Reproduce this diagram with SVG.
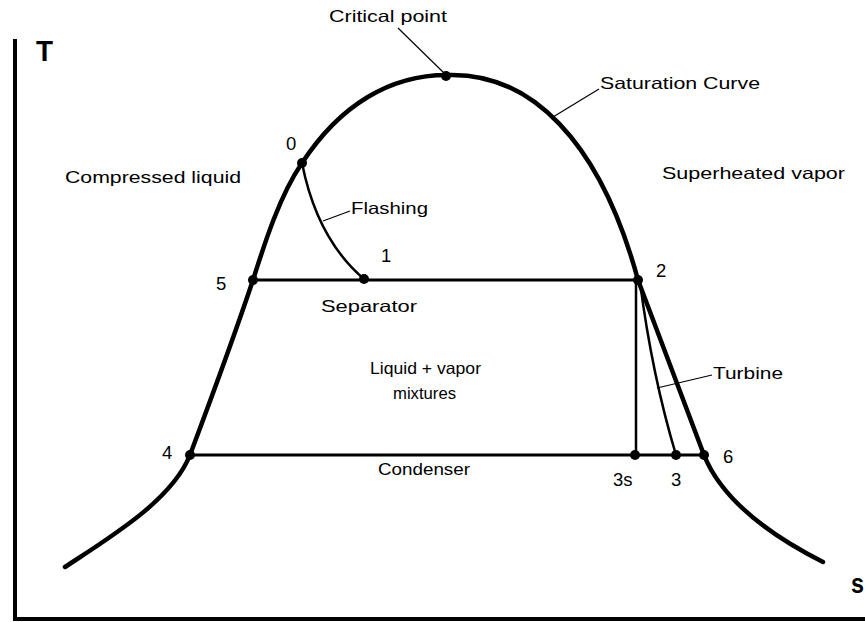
<svg xmlns="http://www.w3.org/2000/svg" width="865" height="622" viewBox="0 0 865 622">
<style>
text{font-family:"Liberation Sans","DejaVu Sans",sans-serif;fill:#000}
.lbl{font-size:16.5px}
.num{font-size:18.5px}
.ax{font-weight:bold}
.thick{fill:none;stroke:#000;stroke-width:4.5;stroke-linecap:round;stroke-linejoin:round}
.mid{fill:none;stroke:#000;stroke-width:3}
.thin{fill:none;stroke:#000;stroke-width:2.5}
.lead{fill:none;stroke:#000;stroke-width:1.2}
.dot{fill:#000}
</style>
<rect width="865" height="622" fill="#fff"/>
<g id="axes">
<path d="M15,39 V619 H865" fill="none" stroke="#000" stroke-width="4"/>
<text class="ax" x="36" y="61" font-size="30" textLength="17" lengthAdjust="spacingAndGlyphs">T</text>
<text class="ax" x="851" y="593" font-size="27" textLength="13" lengthAdjust="spacingAndGlyphs">s</text>
</g>
<g id="connectors">
<path id="saturation-curve" class="thick" d="M65,567 C112,536 172,500 190,455 C205,415 238,325 253,280 C265,242 280,195 302,163 C340,105 390,75 447,75 C530,72 600,140 638,280 L704,455 C720,495 760,530 823,562"/>
<path class="mid" d="M253,280 H638"/>
<path class="mid" d="M190,455 H704"/>
<path class="thin" d="M636,280 V455"/>
<path class="thin" d="M640,282 Q652,375 676,455"/>
<path class="thin" d="M302,163 Q317,239 364,279"/>
<path class="lead" d="M398,28 L444,73"/>
<path class="lead" d="M553,117 L599,89"/>
<path class="lead" d="M323,221 L350,211"/>
<path class="lead" d="M657,388 L712,375"/>
</g>
<g id="critical-point"><circle class="dot" cx="446" cy="76" r="5"/><text class="lbl" x="329" y="22" textLength="118" lengthAdjust="spacingAndGlyphs">Critical point</text></g>
<g id="saturation-label"><text class="lbl" x="600" y="89" textLength="160" lengthAdjust="spacingAndGlyphs">Saturation Curve</text></g>
<g id="superheated"><text class="lbl" x="662" y="179" textLength="183" lengthAdjust="spacingAndGlyphs">Superheated vapor</text></g>
<g id="compressed"><text class="lbl" x="65" y="183" textLength="176" lengthAdjust="spacingAndGlyphs">Compressed liquid</text></g>
<g id="flashing"><text class="lbl" x="351" y="214" textLength="77" lengthAdjust="spacingAndGlyphs">Flashing</text></g>
<g id="separator"><text class="lbl" x="321" y="312" textLength="96" lengthAdjust="spacingAndGlyphs">Separator</text></g>
<g id="turbine"><text class="lbl" x="713" y="379" textLength="70" lengthAdjust="spacingAndGlyphs">Turbine</text></g>
<g id="mixture"><text class="lbl" x="370" y="374" textLength="111" lengthAdjust="spacingAndGlyphs">Liquid + vapor</text><text class="lbl" x="393" y="399" textLength="63" lengthAdjust="spacingAndGlyphs">mixtures</text></g>
<g id="condenser"><text class="lbl" x="378" y="475" textLength="92" lengthAdjust="spacingAndGlyphs">Condenser</text></g>
<g id="p0"><circle class="dot" cx="302" cy="163" r="5"/><text class="num" x="286" y="150">0</text></g>
<g id="p1"><circle class="dot" cx="364" cy="279" r="5"/><text class="num" x="381" y="262">1</text></g>
<g id="p2"><circle class="dot" cx="638" cy="280" r="5"/><text class="num" x="656" y="277">2</text></g>
<g id="p5"><circle class="dot" cx="253" cy="280" r="5"/><text class="num" x="216" y="290">5</text></g>
<g id="p4"><circle class="dot" cx="190" cy="455" r="5"/><text class="num" x="162" y="459">4</text></g>
<g id="p3s"><circle class="dot" cx="635" cy="455" r="5"/><text class="num" x="613" y="486">3s</text></g>
<g id="p3"><circle class="dot" cx="676" cy="455" r="5"/><text class="num" x="671" y="486">3</text></g>
<g id="p6"><circle class="dot" cx="704" cy="455" r="5"/><text class="num" x="723" y="463">6</text></g>
</svg>
